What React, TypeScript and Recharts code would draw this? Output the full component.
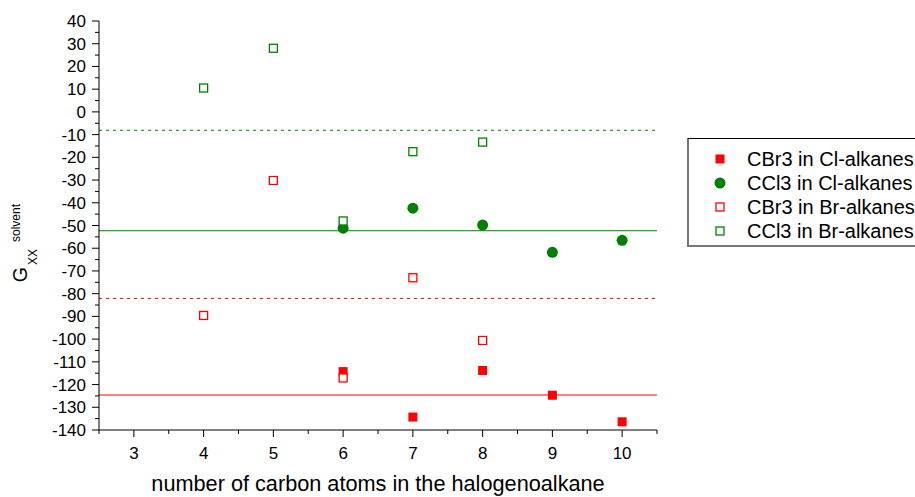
import React from 'react';
import { ScatterChart, Scatter, XAxis, YAxis, ReferenceLine, Legend } from 'recharts';

// carbon counts per solvent family
const clAlkaneCarbons = [6, 7, 8, 9, 10];
const brAlkaneCarbons = [4, 5, 6, 7, 8];

// G_XX^solvent values
const cbr3InCl = [-114.3, -134.3, -113.8, -124.7, -136.4];
const ccl3InCl = [-51.2, -42.4, -49.8, -61.8, -56.5];
const cbr3InBr = [-89.6, -30.2, -117.1, -73, -100.6];
const ccl3InBr = [10.5, 28, -48, -17.5, -13.3];

// horizontal levels (mean of each series)
const levelCbr3Cl = -124.6;
const levelCcl3Cl = -52.3;
const levelCbr3Br = -82.1;
const levelCcl3Br = -8.1;

const xTicks = [2.5, 3, 3.5, 4, 4.5, 5, 5.5, 6, 6.5, 7, 7.5, 8, 8.5, 9, 9.5, 10, 10.5];
const yTicks = [
  40, 35, 30, 25, 20, 15, 10, 5, 0, -5, -10, -15, -20, -25, -30, -35, -40, -45, -50, -55, -60, -65, -70,
  -75, -80, -85, -90, -95, -100, -105, -110, -115, -120, -125, -130, -135, -140,
];

const RED = '#FF0000';
const GREEN = '#008000';
const FONT = '"Liberation Sans", Arial, sans-serif';

const toPoints = (xs: number[], ys: number[]) => xs.map((x, i) => ({ x, y: ys[i] }));

const FilledSquare = ({ cx, cy, fill }: any) => (
  <rect x={cx - 4.5} y={cy - 4.5} width={9} height={9} fill={fill} />
);
const FilledCircle = ({ cx, cy, fill }: any) => <circle cx={cx} cy={cy} r={5.5} fill={fill} />;
const OpenSquare = ({ cx, cy, stroke }: any) => (
  <rect x={cx - 4} y={cy - 4} width={8} height={8} fill="#fff" stroke={stroke} strokeWidth={1.3} />
);

const series = [
  { name: 'CBr3 in Cl-alkanes', data: toPoints(clAlkaneCarbons, cbr3InCl), color: RED, kind: 'sq' },
  { name: 'CCl3 in Cl-alkanes', data: toPoints(clAlkaneCarbons, ccl3InCl), color: GREEN, kind: 'ci' },
  { name: 'CBr3 in Br-alkanes', data: toPoints(brAlkaneCarbons, cbr3InBr), color: RED, kind: 'open' },
  { name: 'CCl3 in Br-alkanes', data: toPoints(brAlkaneCarbons, ccl3InBr), color: GREEN, kind: 'open' },
];

const XTick = ({ x, y, payload }: any) => {
  const major = Number.isInteger(payload.value);
  return (
    <g>
      <line x1={x} x2={x} y1={y} y2={y + (major ? 7 : 4)} stroke="#000" />
      {major && (
        <text x={x} y={y + 29} textAnchor="middle" fontSize={17} fontFamily={FONT} fill="#000">
          {payload.value}
        </text>
      )}
    </g>
  );
};

const YTick = ({ x, y, payload }: any) => {
  const major = payload.value % 10 === 0;
  return (
    <g>
      <line x1={x - (major ? 7 : 4)} x2={x} y1={y} y2={y} stroke="#000" />
      {major && (
        <text x={x - 13} y={y + 6} textAnchor="end" fontSize={17} fontFamily={FONT} fill="#000">
          {payload.value}
        </text>
      )}
    </g>
  );
};

// one piece of the rotated y title; text runs bottom to top from `start`
const Upright = ({ text, left, start, size }: any) => (
  <div
    style={{
      position: 'absolute',
      left,
      bottom: 497 - start,
      writingMode: 'sideways-lr' as any,
      fontFamily: FONT,
      fontSize: size,
      lineHeight: 1,
      whiteSpace: 'nowrap',
      color: '#000',
    }}
  >
    {text}
  </div>
);

const YTitle = () => (
  <>
    <Upright text="G" left={10.8} start={282} size={19.5} />
    <Upright text="XX" left={27.1} start={265} size={12} />
    <Upright text="solvent" left={9.8} start={242} size={12} />
  </>
);

const LegendBox = () => (
  <div
    style={{
      border: '1px solid #000',
      borderLeft: '2px solid #777',
      borderBottom: '2px solid #777',
      background: '#fff',
      width: 240,
      height: 109,
      boxSizing: 'border-box',
      paddingTop: 8,
      fontFamily: FONT,
      fontSize: 20,
    }}
  >
    {series.map((s) => (
      <div key={s.name} style={{ display: 'flex', alignItems: 'center', height: 24 }}>
        <svg width={58} height={24} style={{ flexShrink: 0 }}>
          {s.kind === 'sq' && <FilledSquare cx={31} cy={12} fill={s.color} />}
          {s.kind === 'ci' && <FilledCircle cx={31} cy={12} fill={s.color} />}
          {s.kind === 'open' && <OpenSquare cx={31} cy={12} stroke={s.color} />}
        </svg>
        <span style={{ whiteSpace: 'nowrap' }}>{s.name}</span>
      </div>
    ))}
  </div>
);

export default function App() {
  return (
    <div style={{ position: 'absolute', left: 0, top: 0, width: 915, height: 497, overflow: 'hidden', background: '#fff' }}>
      <ScatterChart width={915} height={497} margin={{ top: 21, right: 258, bottom: 0, left: 0 }}>
        <XAxis
          type="number"
          dataKey="x"
          domain={[2.5, 10.5]}
          ticks={xTicks}
          interval={0}
          height={67}
          tickSize={0}
          tickMargin={0}
          tickLine={false}
          axisLine={{ stroke: '#000' }}
          tick={<XTick />}
          label={{
            value: 'number of carbon atoms in the halogenoalkane',
            position: 'insideBottom',
            offset: 6,
            style: { fontSize: 21.7, fontFamily: FONT, fill: '#000' },
          }}
          allowDataOverflow
        />
        <YAxis
          type="number"
          dataKey="y"
          domain={[-140, 40]}
          ticks={yTicks}
          interval={0}
          width={99}
          tickSize={0}
          tickMargin={0}
          tickLine={false}
          axisLine={{ stroke: '#000' }}
          tick={<YTick />}
          allowDataOverflow
        />
        <ReferenceLine y={levelCcl3Br} stroke={GREEN} strokeDasharray="3 4" />
        <ReferenceLine y={levelCcl3Cl} stroke={GREEN} />
        <ReferenceLine y={levelCbr3Br} stroke={RED} strokeDasharray="3 4" />
        <ReferenceLine y={levelCbr3Cl} stroke={RED} />
        {series.map((s) => (
          <Scatter
            key={s.name}
            name={s.name}
            data={s.data}
            fill={s.color}
            stroke={s.color}
            isAnimationActive={false}
            shape={s.kind === 'sq' ? <FilledSquare /> : s.kind === 'ci' ? <FilledCircle /> : <OpenSquare />}
          />
        ))}
        <Legend
          layout="horizontal"
          verticalAlign="middle"
          align="center"
          wrapperStyle={{ left: 687, top: 138, width: 240 }}
          content={<LegendBox />}
        />
      </ScatterChart>
      <YTitle />
    </div>
  );
}
